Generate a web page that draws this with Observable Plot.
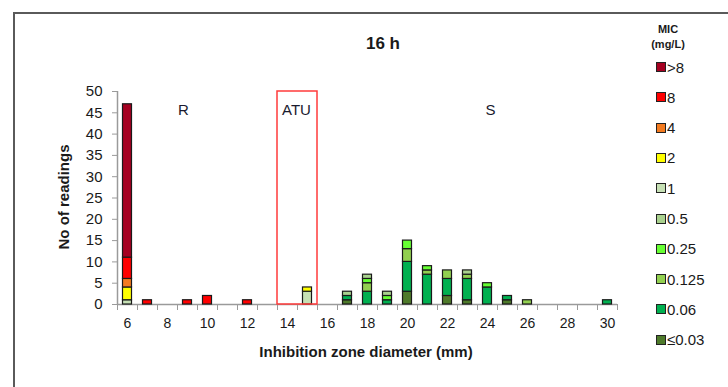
<!DOCTYPE html>
<html>
<head>
<meta charset="utf-8">
<script src="https://cdn.jsdelivr.net/npm/d3@7"></script>
<script src="https://cdn.jsdelivr.net/npm/@observablehq/plot@0.6"></script>
<style>
  html, body { margin: 0; padding: 0; background: #fff; }
  #wrap { position: relative; width: 728px; height: 387px; overflow: hidden; font-family: "Liberation Sans", Arial, sans-serif; color: #1a1a1a; }
  #frame { position: absolute; left: 13px; top: 12px; width: 760px; height: 420px; border: 2px solid #5a5a5a; box-sizing: border-box; }
  #chart { position: absolute; left: 0; top: 0; }
  .title { position: absolute; left: 333px; width: 100px; top: 34px; text-align: center; font-weight: bold; font-size: 17px; }
  .xtitle { position: absolute; left: 166px; width: 400px; top: 343px; text-align: center; font-weight: bold; font-size: 15px; }
  .ytitle { position: absolute; left: 63px; top: 197px; transform: translate(-50%, -50%) rotate(-90deg); white-space: nowrap; font-weight: bold; font-size: 15px; }
  #legend { position: absolute; left: 640px; top: 22px; width: 88px; }
  .lhead { font-weight: bold; font-size: 11px; text-align: center; width: 56px; margin-left: 0px; line-height: 15px; }
  .litem { position: absolute; left: 16px; height: 16px; display: flex; align-items: center; font-size: 15px; white-space: nowrap; }
  .lsw { width: 8px; height: 8px; border: 1px solid #222; margin-right: 1px; }
</style>
</head>
<body>
<div id="wrap">
  <div id="frame"></div>
  <div id="chart"></div>
  <div class="title">16 h</div>
  <div class="xtitle">Inhibition zone diameter (mm)</div>
  <div class="ytitle">No of readings</div>
  <div id="legend">
    <div class="lhead">MIC<br>(mg/L)</div>
  </div>
</div>
<script>
// Inhibition zone diameters (mm), one category each
const diameters = [6,7,8,9,10,11,12,13,14,15,16,17,18,19,20,21,22,23,24,25,26,27,28,29,30];
// MIC levels (legend order, top to bottom)
const micLevels = [">8","8","4","2","1","0.5","0.25","0.125","0.06","≤0.03"];
const micColors = ["#a50021","#ff0000","#f47b20","#ffff00","#c6e0b4","#a9d18e","#66ff33","#92d050","#00b050","#4e7a2a"];
// Counts per diameter (aligned with diameters) for each MIC level
const micGt8   = [36,0,0,0,0,0,0,0,0,0,0,0,0,0,0,0,0,0,0,0,0,0,0,0,0];
const mic8     = [5,1,0,1,2,0,1,0,0,0,0,0,0,0,0,0,0,0,0,0,0,0,0,0,0];
const mic4     = [2,0,0,0,0,0,0,0,0,0,0,0,0,0,0,0,0,0,0,0,0,0,0,0,0];
const mic2     = [3,0,0,0,0,0,0,0,0,1,0,0,0,0,0,0,0,0,0,0,0,0,0,0,0];
const mic1     = [1,0,0,0,0,0,0,0,0,3,0,0,0,0,0,0,0,0,0,0,0,0,0,0,0];
const mic05    = [0,0,0,0,0,0,0,0,0,0,0,1,1,1,0,0,0,1,0,0,0,0,0,0,0];
const mic025   = [0,0,0,0,0,0,0,0,0,0,0,0,1,1,2,1,0,0,1,0,0,0,0,0,0];
const mic0125  = [0,0,0,0,0,0,0,0,0,0,0,0,2,0,3,1,2,1,0,0,1,0,0,0,0];
const mic006   = [0,0,0,0,0,0,0,0,0,0,0,1,3,1,7,7,4,5,4,1,0,0,0,0,1];
const mic003   = [0,0,0,0,0,0,0,0,0,0,0,1,0,0,3,0,2,1,0,1,0,0,0,0,0];
// Axis ticks
const xTickLabels = [6,8,10,12,14,16,18,20,22,24,26,28,30];
const yTicks = [0,5,10,15,20,25,30,35,40,45,50];
// Zone annotations
const zones = [{label: "R", x: 8.8}, {label: "ATU", x: 14.45}, {label: "S", x: 24.15}];
const atuRange = [{x1: 13.5, x2: 15.5}];

const series = [micGt8, mic8, mic4, mic2, mic1, mic05, mic025, mic0125, mic006, mic003];
// stack from lowest MIC (bottom) to highest (top)
const rows = [];
diameters.forEach((d, i) => {
  let y = 0;
  for (let k = micLevels.length - 1; k >= 0; k--) {
    const n = series[k][i];
    if (n > 0) { rows.push({d, mic: micLevels[k], y1: y, y2: y + n}); y += n; }
  }
});
const xMin = diameters[0] - 0.5, xMax = diameters[diameters.length - 1] + 0.5;
const boundaries = d3.range(xMin, xMax + 0.01, 1);
const half = 0.225;

const chart = Plot.plot({
  width: 728, height: 387,
  marginLeft: 117, marginRight: 111, marginTop: 91, marginBottom: 83,
  style: {fontFamily: "Liberation Sans, Arial, sans-serif", color: "#1a1a1a", background: "transparent"},
  x: {domain: [xMin, xMax], label: null},
  y: {domain: [0, 50], label: null},
  color: {domain: micLevels, range: micColors},
  marks: [
    Plot.axisX({ticks: boundaries, tickSize: 6, tickFormat: () => "", stroke: "#9a9a9a", label: null}),
    Plot.axisX({ticks: xTickLabels, tickSize: 0, tickPadding: 14, fontSize: 14, fill: "#1a1a1a", label: null}),
    Plot.axisY({ticks: yTicks, tickSize: 5, tickFormat: () => "", stroke: "#9a9a9a", label: null}),
    Plot.axisY({ticks: yTicks, tickSize: 0, tickPadding: 15, fontSize: 15, fill: "#1a1a1a", label: null}),
    Plot.ruleY([0], {stroke: "#9a9a9a", strokeWidth: 1.5}),
    Plot.ruleX([xMin], {y1: 0, y2: 50, stroke: "#9a9a9a", strokeWidth: 1.5}),
    Plot.rect(rows, {x1: r => r.d - half, x2: r => r.d + half, y1: "y1", y2: "y2", fill: "mic", stroke: "#1a1a1a", strokeWidth: 1.2}),
    Plot.rect(atuRange, {x1: "x1", x2: "x2", y1: 0, y2: 50, fill: "none", stroke: "#ff3b3b", strokeWidth: 1.5}),
    Plot.text(zones, {x: "x", y: 45.5, text: "label", fontSize: 15, fill: "#1a1a2e"})
  ]
});
document.getElementById("chart").appendChild(chart);

// Legend
const legend = document.getElementById("legend");
micLevels.forEach((m, i) => {
  const item = document.createElement("div");
  item.className = "litem";
  item.style.top = (37 + i * 30.3) + "px";
  const sw = document.createElement("span");
  sw.className = "lsw";
  sw.style.background = micColors[i];
  item.appendChild(sw);
  item.appendChild(document.createTextNode(m));
  legend.appendChild(item);
});
</script>
</body>
</html>
